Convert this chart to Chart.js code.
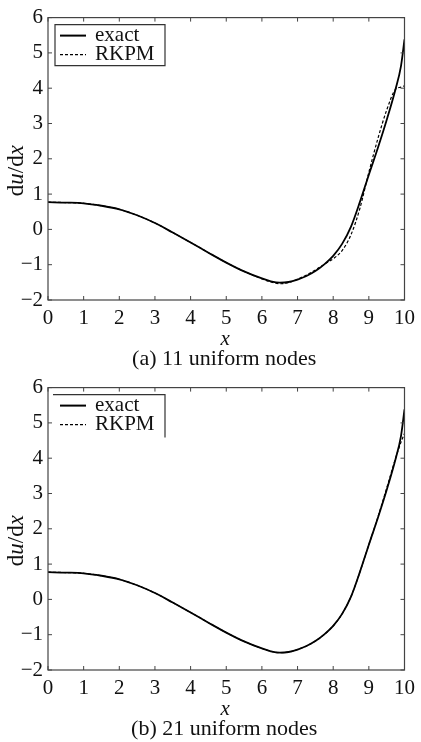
<!DOCTYPE html>
<html>
<head>
<meta charset="utf-8">
<title>du/dx RKPM</title>
<script src="https://cdn.jsdelivr.net/npm/chart.js@4/dist/chart.umd.min.js"></script>
<style>
    html, body { margin: 0; padding: 0; background: #fff; }
    canvas { display: block; }
</style>
</head>
<body>
<canvas id="chartA" width="421" height="370"></canvas>
<canvas id="chartB" width="421" height="372"></canvas>
<script>
// sample positions along the bar
const xs = [0, 0.5, 1, 1.5, 2, 2.5, 3, 3.5, 4, 4.5, 5, 5.5, 6, 6.25, 6.5, 6.75,
    7, 7.25, 7.5, 7.75, 8, 8.25, 8.5, 8.75, 9, 9.25, 9.5, 9.75, 9.9, 10];

// exact derivative
const duExact = [0.77, 0.76, 0.74, 0.67, 0.57, 0.40, 0.18, -0.09, -0.37, -0.66, -0.94, -1.19, -1.39, -1.47, -1.51, -1.49,
    -1.42, -1.32, -1.18, -0.99, -0.75, -0.41, 0.08, 0.78, 1.55, 2.30, 3.10, 3.98, 4.62, 5.38];

// RKPM with 11 nodes
const duRkpm11 = [0.77, 0.76, 0.74, 0.67, 0.57, 0.40, 0.18, -0.09, -0.37, -0.66, -0.94, -1.19, -1.40, -1.49, -1.54, -1.51,
    -1.41, -1.29, -1.15, -0.99, -0.83, -0.60, -0.15, 0.60, 1.62, 2.56, 3.38, 3.97, 4.03, 4.07];

// RKPM with 21 nodes
const duRkpm21 = [0.77, 0.76, 0.74, 0.67, 0.57, 0.40, 0.18, -0.09, -0.37, -0.66, -0.94, -1.19, -1.39, -1.47, -1.51, -1.49,
    -1.42, -1.32, -1.18, -0.99, -0.75, -0.41, 0.08, 0.78, 1.55, 2.32, 3.15, 4.00, 4.45, 4.70];

const legendLabels = ['exact', 'RKPM'];
const captions = ['(a) 11 uniform nodes', '(b) 21 uniform nodes'];

const SERIF = "'Liberation Serif', 'Times New Roman', serif";

function pts(ys) {
    return xs.map(function (x, i) { return { x: x, y: ys[i] }; });
}

// box, inward ticks, legend and labels drawn over the plot
const framePlugin = {
    id: 'frame',
    afterDraw: function (chart, args, opts) {
        const ctx = chart.ctx;
        const a = chart.chartArea;
        const sx = chart.scales.x, sy = chart.scales.y;
        ctx.save();

        // plot box
        ctx.strokeStyle = '#444';
        ctx.lineWidth = 1.2;
        ctx.strokeRect(a.left, a.top, a.right - a.left, a.bottom - a.top);

        // ticks pointing inside, on all four sides
        const tl = 4;
        ctx.lineWidth = 1;
        ctx.beginPath();
        sx.ticks.forEach(function (t) {
            const px = sx.getPixelForValue(t.value);
            ctx.moveTo(px, a.bottom); ctx.lineTo(px, a.bottom - tl);
            ctx.moveTo(px, a.top); ctx.lineTo(px, a.top + tl);
        });
        sy.ticks.forEach(function (t) {
            const py = sy.getPixelForValue(t.value);
            ctx.moveTo(a.left, py); ctx.lineTo(a.left + tl, py);
            ctx.moveTo(a.right, py); ctx.lineTo(a.right - tl, py);
        });
        ctx.stroke();

        // legend
        const lx = a.left + 7, ly = a.top + 7, lw = 110, lh = 41;
        ctx.strokeStyle = '#333';
        ctx.lineWidth = 1.2;
        ctx.beginPath();
        if (opts.fullBox) {
            ctx.rect(lx, ly, lw, lh);
        } else {
            ctx.moveTo(lx - 2, ly);
            ctx.lineTo(lx + lw, ly);
            ctx.lineTo(lx + lw, ly + lh + 2);
        }
        ctx.stroke();

        ctx.strokeStyle = '#000';
        ctx.lineWidth = 2;
        ctx.beginPath();
        ctx.moveTo(lx + 5, ly + 11); ctx.lineTo(lx + 31, ly + 11);
        ctx.stroke();
        ctx.lineWidth = 1.3;
        ctx.setLineDash([3, 2]);
        ctx.beginPath();
        ctx.moveTo(lx + 5, ly + 30); ctx.lineTo(lx + 31, ly + 30);
        ctx.stroke();
        ctx.setLineDash([]);

        ctx.fillStyle = '#111';
        ctx.font = '21px ' + SERIF;
        ctx.textAlign = 'left';
        ctx.textBaseline = 'middle';
        ctx.fillText(legendLabels[0], lx + 40, ly + 11);
        ctx.fillText(legendLabels[1], lx + 40, ly + 30);

        // x axis label
        ctx.font = 'italic 21px ' + SERIF;
        ctx.textAlign = 'center';
        ctx.fillText('x', (a.left + a.right) / 2 - 1, a.bottom + 39);

        // caption
        ctx.font = '22px ' + SERIF;
        ctx.textBaseline = 'alphabetic';
        ctx.fillText(opts.caption, (a.left + a.right) / 2 - 2, a.bottom + 65);

        // y axis label: d(u)/d(x) with italic variables
        const parts = [['d', false], ['u', true], ['/d', false], ['x', true]];
        ctx.translate(17, a.top + 153);
        ctx.rotate(-Math.PI / 2);
        let total = 0;
        parts.forEach(function (p) {
            ctx.font = (p[1] ? 'italic ' : '') + '23px ' + SERIF;
            total += ctx.measureText(p[0]).width;
        });
        let cx = -total / 2;
        ctx.textAlign = 'left';
        ctx.textBaseline = 'middle';
        parts.forEach(function (p) {
            ctx.font = (p[1] ? 'italic ' : '') + '23px ' + SERIF;
            ctx.fillText(p[0], cx, 0);
            cx += ctx.measureText(p[0]).width;
        });

        ctx.restore();
    }
};

function makeChart(id, rkpm, caption, fullBox, padBottom, axisHeight) {
    return new Chart(document.getElementById(id), {
        type: 'line',
        data: {
            datasets: [
                {
                    label: legendLabels[0],
                    data: pts(duExact),
                    borderColor: '#000',
                    borderWidth: 1.8,
                    pointRadius: 0,
                    cubicInterpolationMode: 'monotone',
                    order: 1
                },
                {
                    label: legendLabels[1],
                    data: pts(rkpm),
                    borderColor: '#000',
                    borderWidth: 1.2,
                    borderDash: [3, 2],
                    pointRadius: 0,
                    cubicInterpolationMode: 'monotone',
                    order: 0
                }
            ]
        },
        options: {
            responsive: false,
            animation: false,
            events: [],
            layout: { padding: { top: 15, right: 11, left: 0, bottom: padBottom } },
            scales: {
                x: {
                    type: 'linear',
                    min: 0,
                    max: 10,
                    grid: { display: false, drawTicks: false },
                    border: { display: false },
                    ticks: {
                        stepSize: 1,
                        padding: 6,
                        color: '#111',
                        font: { family: SERIF, size: 21 },
                        maxRotation: 0
                    },
                    afterFit: function (scale) { scale.height = axisHeight; }
                },
                y: {
                    min: -2,
                    max: 6,
                    grid: { display: false, drawTicks: false },
                    border: { display: false },
                    ticks: {
                        stepSize: 1,
                        padding: 5,
                        color: '#111',
                        font: { family: SERIF, size: 21 },
                        callback: function (v) { return v < 0 ? '\u2212' + Math.abs(v) : String(v); }
                    },
                    afterFit: function (scale) { scale.width = 48; }
                }
            },
            plugins: {
                legend: { display: false },
                tooltip: { enabled: false },
                frame: { caption: caption, fullBox: fullBox }
            }
        },
        plugins: [framePlugin]
    });
}

makeChart('chartA', duRkpm11, captions[0], true, 0, 70);
makeChart('chartB', duRkpm21, captions[1], false, 2, 70);
</script>
</body>
</html>
